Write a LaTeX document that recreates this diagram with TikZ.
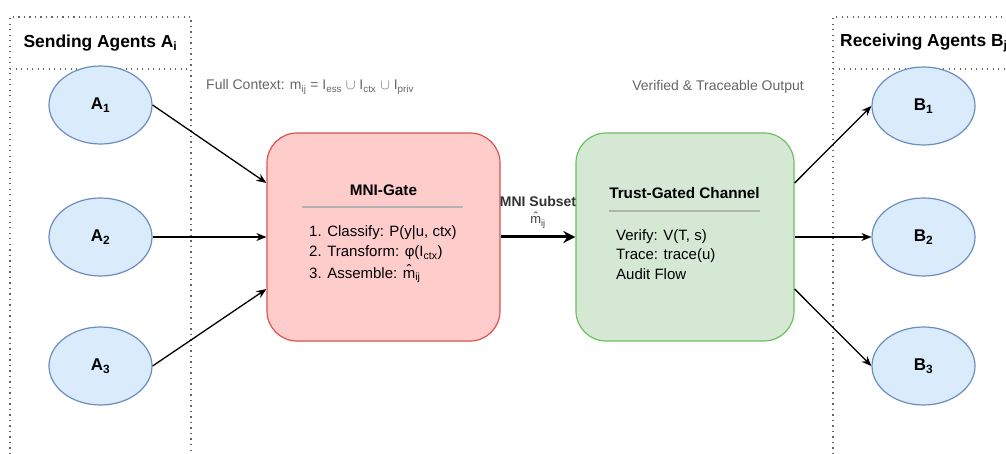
\documentclass[tikz,border=0pt]{standalone}
\usepackage{fontspec}
\setmainfont{Liberation Sans}
\usetikzlibrary{arrows.meta,shapes.geometric,calc}
\definecolor{ellfill}{HTML}{DAEBFC}
\definecolor{elldraw}{HTML}{6C8EBF}
\definecolor{gatefill}{HTML}{FFCCCC}
\definecolor{gatedraw}{HTML}{D9534F}
\definecolor{trustfill}{HTML}{D5E8D4}
\definecolor{trustdraw}{HTML}{6CC062}
\definecolor{lanegray}{HTML}{666666}
\definecolor{labgray}{HTML}{666666}
\begin{document}
\begin{tikzpicture}[x=1pt,y=-1pt,
  agent/.style={ellipse,draw=elldraw,fill=ellfill,line width=1.2pt,minimum width=103pt,minimum height=78pt,inner sep=0pt,font=\fontsize{17}{20}\selectfont\bfseries},
  bigbox/.style={rounded corners=30pt,line width=1.2pt,inner sep=0pt},
  lane/.style={draw=lanegray,line width=1.3pt,dash pattern=on 1.3pt off 4.2pt},
  conn/.style={line width=1.3pt,-{Stealth[length=10pt,width=8pt]}},
  thickconn/.style={line width=3pt,-{Stealth[length=12pt,width=12pt]}},
  sep/.style={draw=gray!60,line width=1.5pt},
  boxtext/.style={anchor=west,inner sep=0pt,font=\fontsize{15}{18}\selectfont},
  boxtitle/.style={inner sep=0pt,font=\fontsize{15.3}{18}\selectfont\bfseries},
  graylab/.style={text=labgray,inner sep=0pt,font=\fontsize{14}{16}\selectfont},
  header/.style={inner sep=0pt,font=\fontsize{17.4}{20}\selectfont\bfseries}
]
\clip (0,0) rectangle (1006,454);
\fill[white] (0,0) rectangle (1006,454);
% swimlanes
\draw[lane] (10,454) -- (10,17) -- (191,17) -- (191,454);
\draw[lane] (10,69) -- (191,69);
\draw[lane] (833,454) -- (833,17) -- (1010,17);
\draw[lane] (833,69) -- (1010,69);
\node[header] (hA) at (100.5,43) {Sending Agents A\textsubscript{i}};
\node[header,anchor=west] (hB) at (840,43) {Receiving Agents B\textsubscript{j}};
% agents
\node[agent] (A1) at (100.5,105) {A\textsubscript{1}};
\node[agent] (A2) at (100.5,237) {A\textsubscript{2}};
\node[agent] (A3) at (100.5,366) {A\textsubscript{3}};
\node[agent] (B1) at (923.5,106) {B\textsubscript{1}};
\node[agent] (B2) at (923.5,237) {B\textsubscript{2}};
\node[agent] (B3) at (923.5,366) {B\textsubscript{3}};
% boxes
\node[bigbox,draw=gatedraw,fill=gatefill,minimum width=233pt,minimum height=208pt] (gate) at (383.5,237) {};
\node[bigbox,draw=trustdraw,fill=trustfill,minimum width=218pt,minimum height=208pt] (trust) at (685,237) {};
% gate content
\node[boxtitle] (gt) at (383.5,190) {MNI-Gate};
\coordinate (gs1) at (302,207);
\coordinate (gs2) at (463,207);
\draw[sep] (gs1) -- (gs2);
\node[boxtext] (g1) at (309,233) {1. Classify: P(y|u, ctx)};
\node[boxtext] (g2) at (309,253) {2. Transform: φ(I\textsubscript{ctx})};
\node[boxtext] (g3) at (309,274) {3. Assemble: \^{m}\textsubscript{ij}};
% trust content
\node[boxtitle] (tt) at (684.5,193) {Trust-Gated Channel};
\coordinate (ts1) at (609,211);
\coordinate (ts2) at (760,211);
\draw[sep] (ts1) -- (ts2);
\node[boxtext] (t1) at (616,237) {Verify: V(T, s)};
\node[boxtext] (t2) at (616,256) {Trace: trace(u)};
\node[boxtext] (t3) at (616,274) {Audit Flow};
% labels
\node[graylab,anchor=west] (lfull) at (206,87) {Full Context: m\textsubscript{ij} = I\textsubscript{ess} $\cup$ I\textsubscript{ctx} $\cup$ I\textsubscript{priv}};
\node[graylab] (lver) at (718,87) {Verified \& Traceable Output};
% connectors
\draw[conn] (A1.east) -- ($(gate.west)+(0,-54)$);
\draw[conn] (A2.east) -- (gate.west);
\draw[conn] (A3.east) -- ($(gate.west)+(0,52)$);
\draw[thickconn] (gate.east) -- (trust.west);
\node[inner sep=0pt,text=black!80,font=\fontsize{14}{16}\selectfont\bfseries] (sub1) at (538,201) {MNI Subset};
\node[inner sep=0pt,text=black!75,font=\fontsize{13}{15}\selectfont] (sub2) at (538,220) {\^{m}\textsubscript{ij}};
\draw[conn] ($(trust.east)+(0,-54)$) -- (B1.west);
\draw[conn] (trust.east) -- (B2.west);
\draw[conn] ($(trust.east)+(0,52)$) -- (B3.west);
\end{tikzpicture}
\end{document}
